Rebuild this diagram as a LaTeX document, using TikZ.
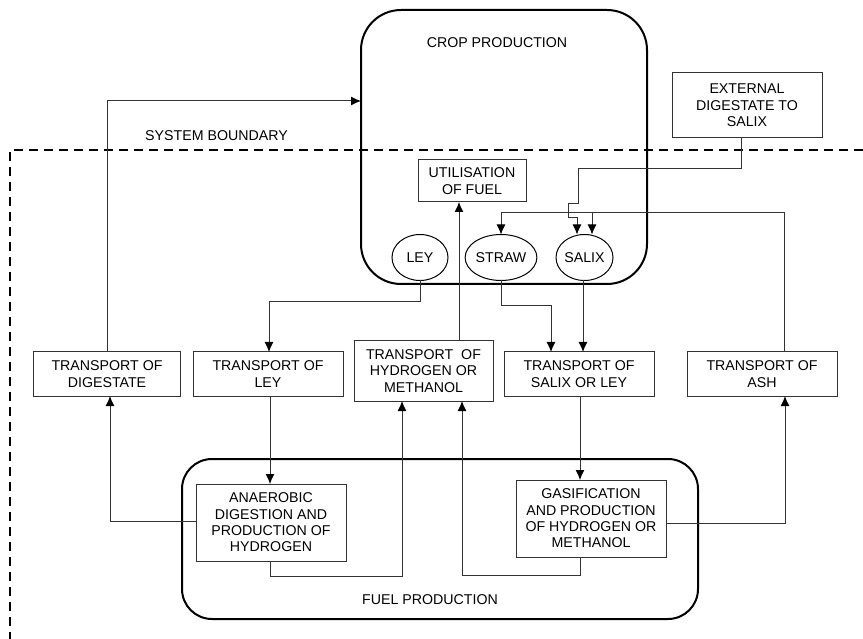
\documentclass[tikz,border=0pt]{standalone}
\usepackage{fontspec}
\setmainfont{Liberation Sans}
\usetikzlibrary{arrows.meta,shapes.geometric}
\begin{document}
\begin{tikzpicture}[x=1pt,y=-1pt,
  every node/.style={font=\fontsize{14.2}{16.4}\selectfont, align=center, inner sep=0pt, outer sep=0pt},
  bigbox/.style={draw=black, line width=2pt, rectangle},
  pbox/.style={draw=black!80, line width=1pt, rectangle},
  oval/.style={draw=black, line width=1pt, ellipse, minimum width=56pt, minimum height=46pt},
  conn/.style={draw=black!80, line width=1pt},
  arr/.style={conn, -{Latex[length=10pt,width=9pt,black]}},
  bound/.style={draw=black, line width=2.4pt, dash pattern=on 9pt off 6pt}
]
\useasboundingbox (0,0) rectangle (863,639);

% big containers
\node[bigbox, rounded corners=40pt, minimum width=286pt, minimum height=274pt] (crop) at (504,147) {};
\node (croplbl) at (497,43) {CROP PRODUCTION};
\node[bigbox, rounded corners=30pt, minimum width=516pt, minimum height=160pt] (fuel) at (440,539) {};
\node (fuellbl) at (430,600) {FUEL PRODUCTION};

% system boundary
\draw[bound] (863,150) -- (10,150) -- (10,639);
\node (sysb) at (216.5,136) {SYSTEM BOUNDARY};

% boxes
\node[pbox, minimum width=108pt, minimum height=42pt] (util) at (472,181) {UTILISATION\\OF FUEL};
\node[pbox, minimum width=150pt, minimum height=65pt] (ext) at (747,105.5) {EXTERNAL\\DIGESTATE TO\\SALIX};

\node[oval] (ley) at (420,257.5) {LEY};
\node[oval, minimum width=57pt] (straw) at (501,257.5) {STRAW};
\node[oval, minimum width=57pt] (salix) at (584.5,257.5) {SALIX};

\node[pbox, minimum width=147pt, minimum height=44pt] (tdig) at (107,374) {TRANSPORT OF\\DIGESTATE};
\node[pbox, minimum width=150pt, minimum height=44pt] (tley) at (268,374) {TRANSPORT OF\\LEY};
\node[pbox, minimum width=139pt, minimum height=60pt] (thyd) at (423.5,371) {TRANSPORT\ \ OF\\HYDROGEN OR\\METHANOL};
\node[pbox, minimum width=150pt, minimum height=44pt] (tsal) at (579,374) {TRANSPORT OF\\SALIX OR LEY};
\node[pbox, minimum width=150pt, minimum height=44pt] (tash) at (762,374) {TRANSPORT OF\\ASH};

\node[pbox, minimum width=150pt, minimum height=77pt] (anaer) at (271,522.5) {ANAEROBIC\\DIGESTION AND\\PRODUCTION OF\\HYDROGEN};
\node[pbox, minimum width=150pt, minimum height=77pt] (gasif) at (591,518.5) {GASIFICATION\\AND PRODUCTION\\OF HYDROGEN OR\\METHANOL};

\coordinate (ashjoin) at (592,213);

% connectors
\draw[arr] (tdig.north) |- (crop.west |- 0,101);
\draw[arr] (anaer.west |- 0,521) -| (tdig.south -| 110,0);
\draw[arr] (tley.south -| 270,0) -- (anaer.north -| 270,0);
\draw[arr] (ley.south) -- ++(0,21) -| (tley.north -| 269,0);
\draw[arr] (anaer.south -| 270,0) -- ++(0,15) -| (thyd.south -| 402,0);
\draw[arr] (tsal.south -| 580,0) -- (gasif.north -| 580,0);
\draw[arr] (gasif.south -| 580,0) -- ++(0,18.5) -| (thyd.south -| 462,0);
\draw[arr] (gasif.east |- 0,523) -| (tash.south -| 785,0);
\draw[arr] (tash.north -| 784,0) |- (straw.north |- ashjoin) -- (straw.north);
\draw[arr] (ashjoin) -- (salix.north -| ashjoin);
\draw[arr] (ext.south -| 741,0) -- (741,169) -- (578,169) -- (578,204) -- (568,204) -- (568,218) -- (577,218) -- (salix.north -| 577,0);
\draw[arr] (straw.south) -- ++(0,25) -| (tsal.north -| 551,0);
\draw[arr] (salix.south -| 583,0) -- (tsal.north -| 583,0);
\draw[arr] (thyd.north -| 459,0) -- (util.south -| 459,0);
\end{tikzpicture}
\end{document}
